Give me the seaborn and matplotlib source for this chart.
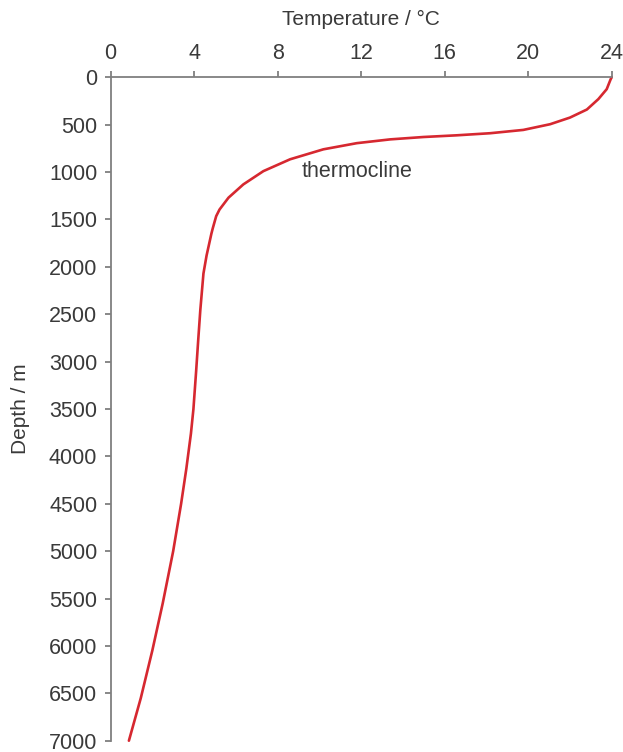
import matplotlib
matplotlib.use("Agg")
import matplotlib.pyplot as plt
import seaborn as sns
import pandas as pd

# Data
depth_m = [0, 20, 125, 230, 340, 425, 495, 555, 590, 612, 630, 655, 695, 760, 865,
           990, 1130, 1270, 1395, 1465, 1590, 1650, 1880, 2070, 2455, 2770, 3100,
           3500, 3760, 4130, 4500, 5000, 5550, 6050, 6550, 7000]
temperature_c = [24.0, 23.95, 23.76, 23.36, 22.81, 22.0, 21.05, 19.77, 18.18, 16.58,
                 14.98, 13.39, 11.79, 10.19, 8.6, 7.32, 6.36, 5.65, 5.22, 5.06, 4.9,
                 4.83, 4.6, 4.45, 4.3, 4.2, 4.1, 3.97, 3.85, 3.63, 3.38, 3.0, 2.5,
                 2.0, 1.45, 0.88]
x_ticks = [0, 4, 8, 12, 16, 20, 24]
y_ticks = list(range(0, 7001, 500))
annotation_text = "thermocline"
x_label = "Temperature / °C"
y_label = "Depth / m"

df = pd.DataFrame({"Depth": depth_m, "Temperature": temperature_c})

sns.set_theme(style="ticks")
plt.rcParams["font.family"] = ["Liberation Sans", "DejaVu Sans"]

text_color = "#3a3a3a"
spine_color = "#7f7f7f"
line_color = "#d62830"

fig = plt.figure(figsize=(6.23, 7.52), dpi=100)
ax = fig.add_axes([0.1774, 0.015, 0.8045, 0.8822])

sns.lineplot(data=df, x="Temperature", y="Depth", sort=False, estimator=None,
             orient="y", color=line_color, linewidth=1.9, ax=ax, clip_on=False)
for ln in ax.get_lines():
    ln.set_solid_joinstyle("round")
    ln.set_solid_capstyle("round")

ax.set_xlim(0, 24)
ax.set_ylim(7000, 0)
ax.set_xticks(x_ticks)
ax.set_yticks(y_ticks)
ax.set_xticklabels([str(v) for v in x_ticks])
ax.set_yticklabels([str(v) for v in y_ticks])

ax.xaxis.tick_top()
ax.xaxis.set_label_position("top")
for s in ["right", "bottom"]:
    ax.spines[s].set_visible(False)
for s in ["left", "top"]:
    ax.spines[s].set_color(spine_color)
    ax.spines[s].set_linewidth(1.3)

ax.tick_params(axis="both", direction="out", length=4.5, width=1.3, color=spine_color,
               labelsize=15.5, labelcolor=text_color, pad=5)

ax.set_xlabel(x_label, fontsize=15, color=text_color, labelpad=13)
ax.set_ylabel(y_label, fontsize=15, color=text_color)
ax.yaxis.set_label_coords(-0.1606, 0.5)

ax.text(9.15, 1050, annotation_text, ha="left", va="baseline", fontsize=15.5,
        color=text_color)

fig.savefig("out.png", dpi=100)
